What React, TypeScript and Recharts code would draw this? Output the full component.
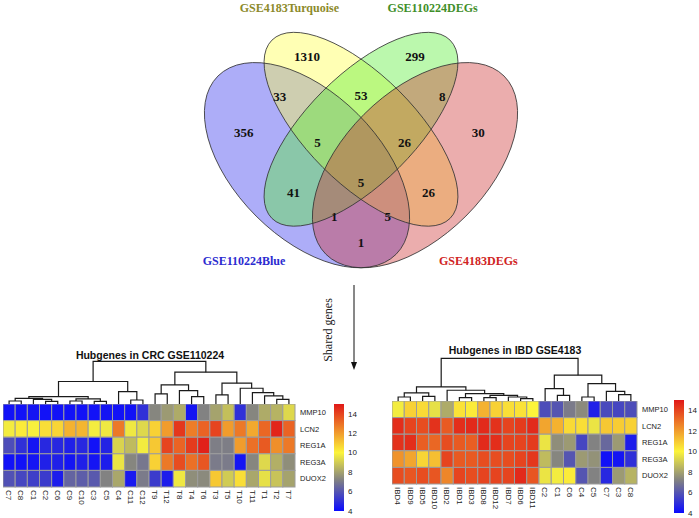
import React from 'react';
import { ScatterChart, Scatter, XAxis, YAxis, BarChart, Bar } from 'recharts';

// ---- Venn data ----
const VENN_SETS = ['GSE110224Blue', 'GSE4183Turquoise', 'GSE110224DEGs', 'GSE4183DEGs'];
const VENN_REGIONS = ['A', 'B', 'C', 'D', 'AB', 'BC', 'CD', 'ABC', 'BCD', 'AC', 'BD', 'ABCD', 'ACD', 'ABD', 'AD'];
const VENN_COUNTS = [356, 1310, 299, 30, 33, 53, 8, 5, 26, 41, 26, 5, 1, 5, 1];

// ---- heatmap data ----
const GENES = ['MMP10', 'LCN2', 'REG1A', 'REG3A', 'DUOX2'];

const CRC_SAMPLES = ['C7', 'C8', 'C1', 'C2', 'C6', 'C9', 'C10', 'C3', 'C5', 'C4', 'C11', 'C12',
  'T9', 'T12', 'T8', 'T4', 'T6', 'T3', 'T5', 'T10', 'T11', 'T1', 'T2', 'T7'];
const CRC_MMP10 = [4.2, 4.2, 4.3, 4.2, 4.2, 4.2, 4.2, 4.2, 4.3, 4.2, 4.2, 5.0, 7.3, 7.8, 8.2, 4.3, 7.2, 8.0, 8.7, 5.0, 7.3, 8.2, 8.4, 9.3];
const CRC_LCN2 = [9.8, 10.2, 9.9, 10.5, 10.7, 11.5, 11.4, 9.8, 9.7, 12.8, 9.7, 9.3, 10.8, 12.0, 14.3, 12.7, 13.3, 14.0, 12.0, 12.8, 11.7, 13.2, 14.7, 13.3];
const CRC_REG1A = [5.8, 5.0, 4.3, 4.8, 4.8, 4.6, 4.8, 4.2, 4.7, 9.2, 8.6, 9.8, 11.0, 14.0, 13.3, 14.2, 14.8, 7.1, 7.1, 12.0, 13.0, 13.5, 12.3, 12.8];
const CRC_REG3A = [4.2, 4.2, 4.3, 4.6, 4.6, 4.3, 4.6, 4.3, 4.5, 9.6, 7.3, 6.9, 10.8, 12.8, 13.8, 13.0, 13.6, 7.0, 7.0, 4.3, 7.3, 9.3, 8.3, 7.5];
const CRC_DUOX2 = [5.9, 5.6, 5.4, 5.3, 4.5, 6.4, 6.2, 6.1, 7.2, 8.1, 4.4, 7.0, 5.3, 4.5, 9.7, 7.5, 7.4, 11.0, 9.0, 10.5, 8.1, 9.5, 8.8, 8.0];

const IBD_SAMPLES = ['IBD4', 'IBD9', 'IBD5', 'IBD10', 'IBD2', 'IBD1', 'IBD3', 'IBD8', 'IBD12', 'IBD7', 'IBD6', 'IBD11',
  'C2', 'C1', 'C6', 'C4', 'C5', 'C7', 'C3', 'C8'];
const IBD_MMP10 = [9.8, 10.8, 10.6, 9.5, 8.2, 10.4, 10.2, 11.5, 10.8, 10.5, 10.4, 10.0, 5.8, 6.0, 7.0, 7.4, 4.6, 5.7, 5.6, 5.8];
const IBD_LCN2 = [14.5, 14.0, 13.8, 14.4, 13.5, 14.5, 14.6, 14.6, 14.4, 14.0, 14.2, 14.6, 11.8, 11.5, 10.6, 10.5, 9.6, 11.0, 10.9, 10.8];
const IBD_REG1A = [14.4, 14.5, 13.4, 13.2, 13.8, 13.5, 13.4, 14.6, 14.5, 14.0, 14.0, 14.2, 9.6, 7.5, 7.8, 5.6, 7.2, 6.5, 7.8, 4.5];
const IBD_REG3A = [12.2, 11.8, 10.7, 11.2, 14.0, 13.5, 13.5, 13.8, 13.8, 13.8, 14.0, 14.3, 8.6, 7.3, 6.0, 7.8, 7.6, 4.2, 4.3, 5.0];
const IBD_DUOX2 = [13.8, 13.6, 13.8, 13.6, 12.5, 14.0, 13.8, 14.0, 14.0, 14.0, 14.6, 13.6, 9.6, 9.8, 10.2, 6.0, 7.2, 4.8, 7.8, 8.4];

// column dendrograms: leaf = column index, node = [left, right, height]
type Tree = number | [Tree, Tree, number];
const CRC_TREE: Tree = [
  [
    [[[0, 1, 0.71], [2, [3, 4, 0.63], 1.1], 1.34], [[5, 6, 0.71], [7, 8, 0.63], 1.18], 1.73],
    [9, [10, 11, 0.94], 2.91],
    5.28,
  ],
  [
    [[12, 13, 2.36], [14, [15, 16, 1.73], 3.15], 4.49],
    [[17, 18, 2.13], [19, [20, [21, [22, 23, 1.1], 1.89], 2.68], 3.7], 4.88],
    7.48,
  ],
  10,
];
const IBD_TREE: Tree = [
  [
    [[0, 1, 0.94], [2, 3, 1.1], 1.89],
    [4, [[5, 6, 0.79], [[7, 8, 0.79], [9, [10, 11, 0.55], 0.94], 1.34], 1.73], 2.52],
    3.31,
  ],
  [
    [12, [13, 14, 1.34], 2.91],
    [[15, 16, 0.94], [17, [18, 19, 1.5], 2.28], 4.09],
    6.06,
  ],
  10,
];

const KEY_MIN = 4;
const KEY_MAX = 15;
const KEY_TICKS = [4, 6, 8, 10, 12, 14];
const COLOR_STOPS: [number, string][] = [[4, '#0a0aff'], [7.2, '#828282'], [10, '#fcf43a'], [15, '#e01818']];

// ---- layout (not data) ----
const VENN_LEFT = 37;
const VENN_W = 648;
const VENN_H = 377;
const VENN_X: [number, number] = [-0.4, 1.4];
const VENN_Y: [number, number] = [-0.12, 0.93];
const VENN_PX = VENN_W / (VENN_X[1] - VENN_X[0]);
const ELLIPSES = [
  { x: 0.35, y: 0.47, a: 0.35, b: 0.2, rot: 45, color: '#3333ee' },
  { x: 0.5, y: 0.57, a: 0.35, b: 0.15, rot: 45, color: '#ffff44' },
  { x: 0.5, y: 0.57, a: 0.35, b: 0.15, rot: -45, color: '#55ee33' },
  { x: 0.65, y: 0.47, a: 0.35, b: 0.2, rot: -45, color: '#cc3333' },
];
const SET_LABEL_POS = [[0.175, 0.203], [0.301, 0.908], [0.699, 0.908], [0.826, 0.203]];
const SET_LABEL_COLORS = ['#2b2bd0', '#8c8a2a', '#3f8f2a', '#d02424'];
const REGION_POS: Record<string, [number, number]> = {
  A: [0.174, 0.56], B: [0.35, 0.772], C: [0.65, 0.772], D: [0.826, 0.56],
  AB: [0.274, 0.66], BC: [0.5, 0.665], CD: [0.726, 0.66],
  ABC: [0.379, 0.533], BCD: [0.621, 0.533], AC: [0.3125, 0.393], BD: [0.6875, 0.393],
  ABCD: [0.5, 0.421], ACD: [0.426, 0.327], ABD: [0.574, 0.327], AD: [0.5, 0.254],
};

const SERIF = '"Liberation Serif", "Times New Roman", serif';
const SANS = '"Liberation Sans", Arial, sans-serif';
const ZERO = { top: 0, right: 0, bottom: 0, left: 0 };

function hexToRgb(h: string) {
  return [1, 3, 5].map((i) => parseInt(h.slice(i, i + 2), 16));
}

function colorFor(v: number) {
  let i = 0;
  while (i < COLOR_STOPS.length - 2 && v > COLOR_STOPS[i + 1][0]) i++;
  const [v0, c0] = COLOR_STOPS[i];
  const [v1, c1] = COLOR_STOPS[i + 1];
  const t = Math.max(0, Math.min(1, (v - v0) / (v1 - v0)));
  const a = hexToRgb(c0);
  const b = hexToRgb(c1);
  const rgb = a.map((x, k) => Math.round(x + (b[k] - x) * t));
  return `rgb(${rgb.join(',')})`;
}

function treeLinks(tree: Tree) {
  const out: { x: number; h: number }[][] = [];
  const walk = (t: Tree): { x: number; h: number } => {
    if (typeof t === 'number') return { x: t, h: 0 };
    const l = walk(t[0]);
    const r = walk(t[1]);
    out.push([
      { x: l.x, h: l.h },
      { x: l.x, h: t[2] },
      { x: r.x, h: t[2] },
      { x: r.x, h: r.h },
    ]);
    return { x: (l.x + r.x) / 2, h: t[2] };
  };
  walk(tree);
  return out;
}

function Venn() {
  const ellipses = ELLIPSES;
  const setLabels = VENN_SETS.map((name, i) => ({
    name, x: SET_LABEL_POS[i][0], y: SET_LABEL_POS[i][1], color: SET_LABEL_COLORS[i],
  }));
  const regions = VENN_REGIONS.map((r, i) => ({
    count: VENN_COUNTS[i], x: REGION_POS[r][0], y: REGION_POS[r][1],
  }));

  const fillShape = (p: any) => (
    <ellipse cx={p.cx} cy={p.cy} rx={p.payload.a * VENN_PX} ry={p.payload.b * VENN_PX}
      transform={`rotate(${p.payload.rot} ${p.cx} ${p.cy})`}
      fill={p.payload.color} fillOpacity={0.4} stroke="none" />
  );
  const strokeShape = (p: any) => (
    <ellipse cx={p.cx} cy={p.cy} rx={p.payload.a * VENN_PX} ry={p.payload.b * VENN_PX}
      transform={`rotate(${p.payload.rot} ${p.cx} ${p.cy})`}
      fill="none" stroke="#333" strokeWidth={0.8} />
  );
  const countShape = (p: any) => (
    <text x={p.cx} y={p.cy} textAnchor="middle" dominantBaseline="central"
      fontFamily={SERIF} fontWeight="bold" fontSize={13} fill="#111">{p.payload.count}</text>
  );
  const setShape = (p: any) => (
    <text x={p.cx} y={p.cy} textAnchor="middle" dominantBaseline="central"
      fontFamily={SERIF} fontWeight="bold" fontSize={12} fill={p.payload.color}>{p.payload.name}</text>
  );

  return (
    <div style={{ position: 'absolute', left: VENN_LEFT, top: 0 }}>
      <ScatterChart width={VENN_W} height={VENN_H} margin={ZERO}>
        <XAxis type="number" dataKey="x" domain={VENN_X} hide />
        <YAxis type="number" dataKey="y" domain={VENN_Y} hide />
        <Scatter data={ellipses} shape={fillShape} isAnimationActive={false} />
        <Scatter data={ellipses} shape={strokeShape} isAnimationActive={false} />
        <Scatter data={regions} shape={countShape} isAnimationActive={false} />
        <Scatter data={setLabels} shape={setShape} isAnimationActive={false} />
      </ScatterChart>
    </div>
  );
}

function Dendrogram({ tree, n, left, top, width }: { tree: Tree; n: number; left: number; top: number; width: number }) {
  const links = treeLinks(tree);
  return (
    <div style={{ position: 'absolute', left, top }}>
      <ScatterChart width={width} height={46} margin={ZERO}>
        <XAxis type="number" dataKey="x" domain={[-0.5, n - 0.5]} hide />
        <YAxis type="number" dataKey="h" domain={[0, 10.8]} hide />
        {links.map((pts, i) => (
          <Scatter key={i} data={pts} line={{ stroke: '#1a1a1a', strokeWidth: 1.2 }} lineType="joint"
            shape={() => <g />} isAnimationActive={false} />
        ))}
      </ScatterChart>
    </div>
  );
}

function Heatmap({ samples, rows, left, top, plotW, plotH }:
  { samples: string[]; rows: number[][]; left: number; top: number; plotW: number; plotH: number }) {
  const cells = rows.flatMap((vals, r) => vals.map((v, c) => ({ col: c, row: r, value: v })));
  const cw = plotW / samples.length;
  const ch = plotH / GENES.length;
  const cellShape = (p: any) => (
    <rect x={p.cx - cw / 2} y={p.cy - ch / 2} width={cw} height={ch}
      fill={colorFor(p.payload.value)} stroke="#9c9c9c" strokeWidth={1} />
  );
  const sampleTick = (p: any) => (
    <text x={p.x} y={p.y} transform={`rotate(90 ${p.x} ${p.y})`} textAnchor="start" dy="0.35em"
      fontSize={8} fontFamily={SANS} fill="#222">{samples[p.payload.value]}</text>
  );
  return (
    <div style={{ position: 'absolute', left, top }}>
      <ScatterChart width={plotW + 40} height={plotH + 30} margin={ZERO}>
        <XAxis type="number" dataKey="col" domain={[-0.5, samples.length - 0.5]}
          ticks={samples.map((_, i) => i)} interval={0} axisLine={false} tickLine={false}
          tickSize={0} tickMargin={3} height={30} tick={sampleTick} />
        <YAxis type="number" dataKey="row" domain={[-0.5, GENES.length - 0.5]} reversed
          ticks={GENES.map((_, i) => i)} interval={0} orientation="right" width={40}
          axisLine={false} tickLine={false} tickSize={0} tickMargin={5}
          tickFormatter={(v: number) => GENES[v]}
          tick={{ fontSize: 7.5, fill: '#222', fontFamily: SANS }} />
        <Scatter data={cells} shape={cellShape} isAnimationActive={false} />
      </ScatterChart>
    </div>
  );
}

function ColorKey({ id, left, top, barH, axisW }: { id: string; left: number; top: number; barH: number; axisW: number }) {
  const span = KEY_MAX - KEY_MIN;
  return (
    <div style={{ position: 'absolute', left, top: top - 5 }}>
      <BarChart width={10 + axisW} height={barH + 10} data={[{ name: 'key', range: [KEY_MIN, KEY_MAX] }]}
        margin={{ top: 5, right: 0, bottom: 5, left: 0 }} barCategoryGap={0}>
        <defs>
          <linearGradient id={id} x1="0" y1="1" x2="0" y2="0">
            {COLOR_STOPS.map(([v, c]) => (
              <stop key={v} offset={`${((v - KEY_MIN) / span) * 100}%`} stopColor={c} />
            ))}
          </linearGradient>
        </defs>
        <XAxis dataKey="name" hide />
        <YAxis type="number" orientation="right" domain={[KEY_MIN, KEY_MAX]} ticks={KEY_TICKS} interval={0}
          width={axisW} axisLine={false} tickLine={false} tickSize={0} tickMargin={4}
          tick={{ fontSize: 8, fill: '#222', fontFamily: SANS }} />
        <Bar dataKey="range" fill={`url(#${id})`} isAnimationActive={false} />
      </BarChart>
    </div>
  );
}

export default function App() {
  return (
    <div style={{ position: 'absolute', left: 0, top: 0, width: 699, height: 518, overflow: 'hidden', background: '#fff' }}>
      <Venn />

      <svg width={699} height={518} style={{ position: 'absolute', left: 0, top: 0 }}>
        <line x1={354} y1={285} x2={354} y2={364} stroke="#111" strokeWidth={1} />
        <polygon points="354,370 351,362 357,362" fill="#111" />
        <text x={328} y={330} transform="rotate(-90 328 330)" textAnchor="middle" dominantBaseline="central"
          fontFamily={SERIF} fontSize={12} fill="#222">Shared genes</text>
        <text x={150} y={355} textAnchor="middle" dominantBaseline="central"
          fontFamily={SANS} fontWeight="bold" fontSize={10.5} fill="#111">Hubgenes in CRC GSE110224</text>
        <text x={515} y={350} textAnchor="middle" dominantBaseline="central"
          fontFamily={SANS} fontWeight="bold" fontSize={10.5} fill="#111">Hubgenes in IBD GSE4183</text>
      </svg>

      <Dendrogram tree={CRC_TREE} n={CRC_SAMPLES.length} left={3} top={358} width={292} />
      <Heatmap samples={CRC_SAMPLES} rows={[CRC_MMP10, CRC_LCN2, CRC_REG1A, CRC_REG3A, CRC_DUOX2]}
        left={3} top={404} plotW={292} plotH={83} />
      <ColorKey id="crcKey" left={334} top={404} barH={107} axisW={22} />

      <Dendrogram tree={IBD_TREE} n={IBD_SAMPLES.length} left={392} top={355} width={245} />
      <Heatmap samples={IBD_SAMPLES} rows={[IBD_MMP10, IBD_LCN2, IBD_REG1A, IBD_REG3A, IBD_DUOX2]}
        left={392} top={401} plotW={245} plotH={83} />
      <ColorKey id="ibdKey" left={674} top={400} barH={113} axisW={15} />
    </div>
  );
}
